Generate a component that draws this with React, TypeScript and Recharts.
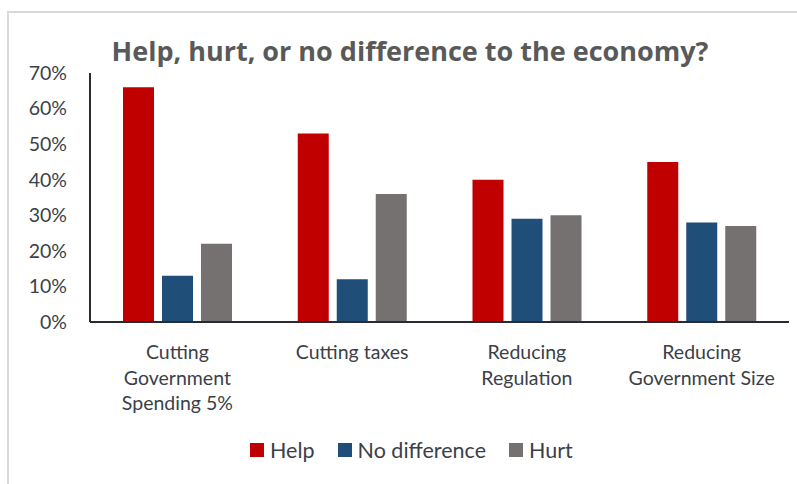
import { Bar, BarChart, XAxis, YAxis } from 'recharts';

const categories = ["Cutting Government Spending 5%", "Cutting taxes", "Reducing Regulation", "Reducing Government Size"];
const categoryLines = [
  ["Cutting", "Government", "Spending 5%"],
  ["Cutting taxes"],
  ["Reducing", "Regulation"],
  ["Reducing", "Government Size"],
];
const help = [66, 53, 40, 45];
const noDifference = [13, 12, 29, 28];
const hurt = [22, 36, 30, 27];
const yTicks = [0, 10, 20, 30, 40, 50, 60, 70];

const series = [
  { key: "help", name: "Help", color: "#C00000" },
  { key: "noDifference", name: "No difference", color: "#1F4E79" },
  { key: "hurt", name: "Hurt", color: "#767171" },
];

const data = categories.map((c, i) => ({
  category: c,
  help: help[i],
  noDifference: noDifference[i],
  hurt: hurt[i],
}));

const font = "Lato, 'Open Sans', sans-serif";
const textColor = "#3b3f48";
const axisColor = "#262b36";

function CategoryTick({ x, y, index }: any) {
  const lines = categoryLines[index] ?? [];
  return (
    <text x={x} y={y + 29} textAnchor="middle" fontFamily={font} fontSize={19.5} fill={textColor}>
      {lines.map((l, i) => (
        <tspan key={i} x={x} dy={i === 0 ? 0 : 25.5}>{l}</tspan>
      ))}
    </text>
  );
}

function LegendRow() {
  return (
    <div style={{ position: 'absolute', top: 437, left: 250, display: 'flex', alignItems: 'center', fontFamily: font, fontSize: 21.5, color: textColor }}>
      {series.map((s) => (
        <div key={s.key} style={{ display: 'flex', alignItems: 'center', marginRight: 23 }}>
          <span style={{ width: 14, height: 14, background: s.color, display: 'inline-block', marginRight: 6 }} />
          <span>{s.name}</span>
        </div>
      ))}
    </div>
  );
}

export default function App() {
  return (
    <div style={{ position: 'relative', width: 797, height: 484, overflow: 'hidden', background: '#fff' }}>
      <style>{`body{margin:0}`}</style>
      <div style={{ position: 'absolute', left: 7, top: 11, width: 830, height: 520, border: '2px solid #d9d9d9', boxSizing: 'border-box' }} />
      <div style={{ position: 'absolute', top: 32, left: 0, width: 820, textAlign: 'center', fontFamily: "'Open Sans', Lato, sans-serif", fontWeight: 700, fontSize: 27, color: '#595959' }}>
        Help, hurt, or no difference to the economy?
      </div>
      <div style={{ position: 'absolute', top: 0, left: 0 }}>
        <BarChart width={797} height={484} data={data} margin={{ top: 73, right: 8, bottom: 0, left: 0 }} barGap={8} barSize={31}>
          <XAxis
            dataKey="category"
            tick={<CategoryTick />}
            tickLine={false}
            axisLine={{ stroke: axisColor, strokeWidth: 2 }}
            interval={0}
            height={162}
          />
          <YAxis
            domain={[0, 70]}
            ticks={yTicks}
            interval={0}
            tickFormatter={(v) => `${v}%`}
            tick={{ fontFamily: font, fontSize: 19.5, fill: textColor }}
            tickLine={false}
            tickSize={0}
            tickMargin={23}
            axisLine={{ stroke: axisColor, strokeWidth: 2 }}
            width={90}
          />
          {series.map((s) => (
            <Bar key={s.key} dataKey={s.key} name={s.name} fill={s.color} isAnimationActive={false} />
          ))}
        </BarChart>
      </div>
      <LegendRow />
    </div>
  );
}
